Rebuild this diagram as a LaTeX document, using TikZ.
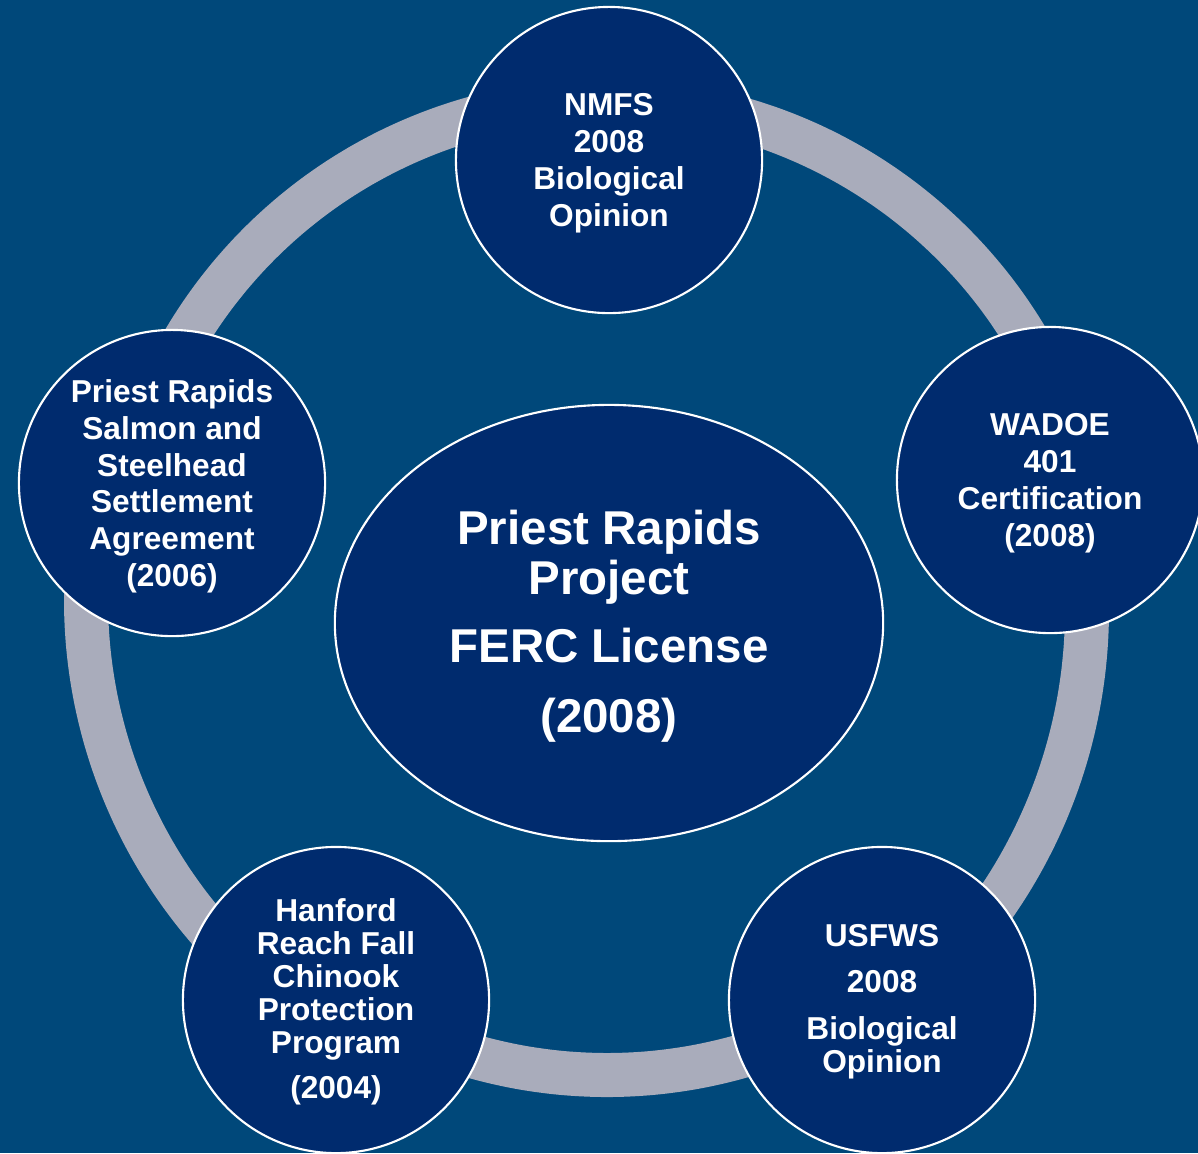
\documentclass[tikz,border=0pt]{standalone}
\usepackage{fontspec}
\setmainfont{Liberation Sans}
\usetikzlibrary{shapes.geometric}

\definecolor{bgcol}{RGB}{0,72,122}
\definecolor{navy}{RGB}{0,43,110}
\definecolor{ringcol}{RGB}{169,172,187}

\tikzset{
  ringline/.style={ringcol,line width=0.44cm},
  sat/.style={circle,fill=navy,draw=white,line width=0.6pt,
    minimum size=3.06cm,inner sep=0pt,text=white,align=center,
    font={\bfseries\fontsize{9pt}{10.5pt}\selectfont},text depth=-0.7pt},
  tight/.style={font={\bfseries\fontsize{9pt}{9.4pt}\selectfont}},
  hub/.style={ellipse,fill=navy,draw=white,line width=0.6pt,
    minimum width=5.48cm,minimum height=4.36cm,inner sep=0pt,
    text=white,align=center,
    font={\bfseries\fontsize{13.5pt}{14.2pt}\selectfont},text depth=1.1pt},
}

% one piece of the grey ring: centre x, centre y, radius, from, to
\newcommand\ringarc[5]{%
  \draw[ringline] plot[domain=#4:#5,samples=40,smooth]
    ({#1+#3*cos(\x)},{#2+#3*sin(\x)});}

\begin{document}
\begin{tikzpicture}[x=0.01cm,y=-0.01cm]
  \useasboundingbox (0,0) rectangle (1198,1153);
  \clip (0,0) rectangle (1198,1153);
  \fill[bgcol] (0,0) rectangle (1198,1153);

  % RING (the ends of each piece hide under the circles)
  \ringarc{606}{590}{490}{-160}{-100}
  \ringarc{606}{590}{490}{-80}{-25}
  \ringarc{570}{610}{517}{-12}{45}
  \ringarc{607}{585}{490}{60}{125}
  \ringarc{590}{600}{504}{135}{195}

  % CENTRE
  \node[hub] (ferc) at (609,623)
    {Priest Rapids\\Project\\[0.18cm]FERC License\\[0.2cm](2008)};

  % SATELLITES
  \node[sat] (nmfs)   at (609,160)  {NMFS\\2008\\Biological\\Opinion};
  \node[sat] (wadoe)  at (1050,480) {WADOE\\401\\Certification\\(2008)};
  \node[sat,tight,text depth=0.8pt] (usfws) at (882,1000)
    {USFWS\\[0.13cm]2008\\[0.14cm]Biological\\Opinion};
  \node[sat,tight,text depth=1pt] (hanford) at (336,1000)
    {Hanford\\Reach Fall\\Chinook\\Protection\\Program\\[0.12cm](2004)};
  \node[sat] (salmon) at (172,483)
    {Priest Rapids\\Salmon and\\Steelhead\\Settlement\\Agreement\\(2006)};

\end{tikzpicture}
\end{document}
